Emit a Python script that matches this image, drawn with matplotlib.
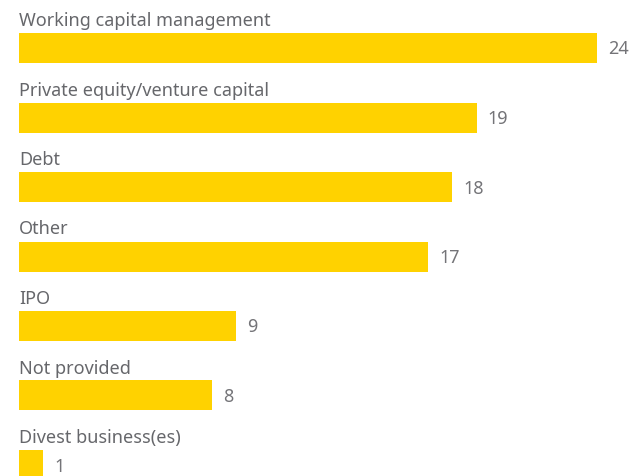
import matplotlib
matplotlib.use("Agg")
import matplotlib.pyplot as plt

categories = ["Working capital management", "Private equity/venture capital", "Debt",
              "Other", "IPO", "Not provided", "Divest business(es)"]
values = [24, 19, 18, 17, 9, 8, 1]

W, H = 636, 476
fig = plt.figure(figsize=(W / 100, H / 100), dpi=100)
ax = fig.add_axes([0, 0, 1, 1])

px_per_unit = 24.08
x0_px = 19
pitch = 69.5
first_center = 48.0
bar_h_px = 30.0

ax.set_xlim(-x0_px / px_per_unit, (W - x0_px) / px_per_unit)
ax.set_ylim((H - first_center) / pitch, -first_center / pitch)

ypos = list(range(len(values)))
ax.barh(ypos, values, height=bar_h_px / pitch, left=0, color="#FFD200", edgecolor="none")

font = "Noto Sans"
for i, (c, v) in enumerate(zip(categories, values)):
    ax.text(0, i - 22 / pitch, c, ha="left", va="baseline", fontsize=13,
            color="#66676b", family=font)
    ax.text(v + 11 / px_per_unit, i + 1.5 / pitch, str(v), ha="left", va="center",
            fontsize=13, color="#747478", family=font)

ax.axis("off")
fig.savefig("out.png", dpi=100)
